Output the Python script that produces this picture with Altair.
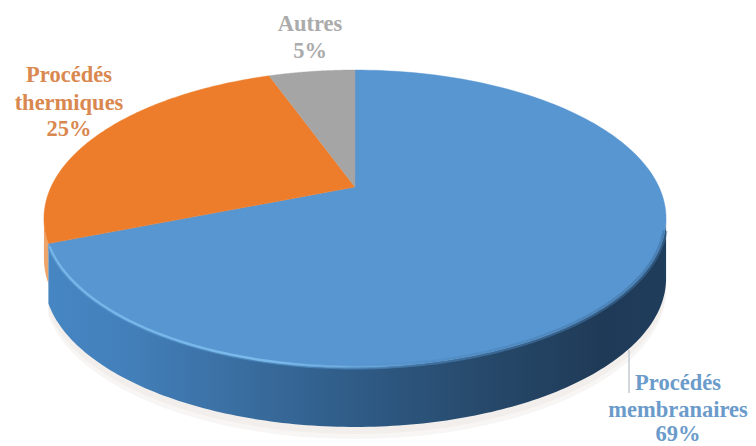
import math
import altair as alt

categories = ["Procédés membranaires", "Procédés thermiques", "Autres"]
shares = [69, 25.5, 5.5]
label_lines = [["Procédés", "membranaires", "69%"], ["Procédés", "thermiques", "25%"], ["Autres", "5%"]]
colors = ["#5896d1", "#ed7d2b", "#a5a5a5"]
text_colors = ["#6b9bca", "#d98850", "#ababab"]

W, H = 740, 438
OX, OY = 8, 8
CX, CY = 355, 187      # apex of the pie in page pixels
SX, A, C = 304.0, 141.8, 0.212  # perspective of the disc
DEPTH = 60

def project(t, drop=0.0):
    u, v = math.sin(t), math.cos(t)
    w = 1 + C * v
    return [SX * u / w, A * v / w - drop]

def arc(t0, t1, drop=0.0, n=160):
    return [project(t0 + (t1 - t0) * i / n, drop) for i in range(n + 1)]

def polygon(points):
    return {"type": "Feature", "properties": {},
            "geometry": {"type": "Polygon", "coordinates": [points + [points[0]]]}}

def line(points):
    return {"type": "Feature", "properties": {},
            "geometry": {"type": "LineString", "coordinates": points}}

def shape(feature, **mark):
    return alt.Chart(alt.Data(values=[feature])).mark_geoshape(**mark).project(
        type="identity", reflectY=True, scale=1, translate=[CX - OX, CY - OY])

def grad(stops, x1=0, x2=1):
    return alt.LinearGradient(gradient="linear", x1=x1, x2=x2, y1=0, y2=0,
                              stops=[alt.GradientStop(offset=o, color=c) for o, c in stops])

total = sum(shares)
ends = []
acc = 0.0
for s in shares:
    start = acc
    acc += s / total * 2 * math.pi
    ends.append((start, acc))

t_right = math.acos(-C)
t_left = 2 * math.pi - t_right
blue_end = ends[0][1]

layers = []
# pale cast shadow
for d, col in [(72, "#f8f6f4"), (67, "#f1eeeb")]:
    front = arc(t_right, blue_end, d)
    layers.append(shape(polygon(arc(t_right, blue_end, 0) + front[::-1]), fill=col, strokeWidth=0))

# rim
rim_blue = arc(t_right, blue_end) + arc(t_right, blue_end, DEPTH)[::-1]
rim_orange = arc(blue_end, t_left) + arc(blue_end, t_left, 40)[::-1]
layers.append(shape(polygon(rim_orange), fill="#eda56c", strokeWidth=0))
rim_grad = grad([(0, "#4686c2"), (0.12, "#4380bb"), (0.3, "#3a6fa2"), (0.5, "#2f5b86"),
                 (0.72, "#264869"), (0.9, "#1f3a57"), (1, "#1f3d5c")])
layers.append(shape(polygon(rim_blue), fill=rim_grad, strokeWidth=0))

# top face
for (t0, t1), col in zip(ends, colors):
    pts = [[0.0, 0.0]] + arc(t0, t1)
    layers.append(shape(polygon(pts), fill=col, stroke=col, strokeWidth=0.4))

# soft edge and highlight along the front of the disc
front_edge = arc(t_right + 0.08, blue_end - 0.02)
layers.append(shape(line(front_edge), filled=False, strokeWidth=5, strokeOpacity=0.55,
                    stroke=grad([(0, "#5896d1"), (0.45, "#5896d1"), (1, "#3d6f9f")])))
layers.append(shape(line(front_edge), filled=False, strokeWidth=2.5,
                    stroke=grad([(0, "rgba(125,190,238,0.75)"), (0.35, "rgba(125,190,238,0.9)"),
                                 (0.62, "rgba(125,190,238,0)"), (1, "rgba(125,190,238,0)")])))

# leader line of the blue label
layers.append(alt.Chart(alt.Data(values=[{}])).mark_rule(color="#b5bec8", strokeWidth=1.2).encode(
    x=alt.value(629 - OX), y=alt.value(350 - OY), y2=alt.value(393 - OY)))

# labels
label_pos = [(678, [390, 417, 441]), (69, [82, 110, 136]), (310, [31, 58])]
for lines, (lx, ys), col in zip(label_lines, label_pos, text_colors):
    for txt, ly in zip(lines, ys):
        layers.append(alt.Chart(alt.Data(values=[{"t": txt}])).mark_text(
            font="Liberation Serif", fontWeight="bold", fontSize=22.5, color=col,
            align="center", baseline="alphabetic").encode(
            text="t:N", x=alt.value(lx - OX), y=alt.value(ly - OY)))

chart = alt.layer(*layers).properties(
    width=W, height=H, padding=0, background="white",
    autosize=alt.AutoSizeParams(type="none")
).configure_view(strokeWidth=0)

chart.save("out.html", embed_options={"renderer": "svg", "actions": False})
